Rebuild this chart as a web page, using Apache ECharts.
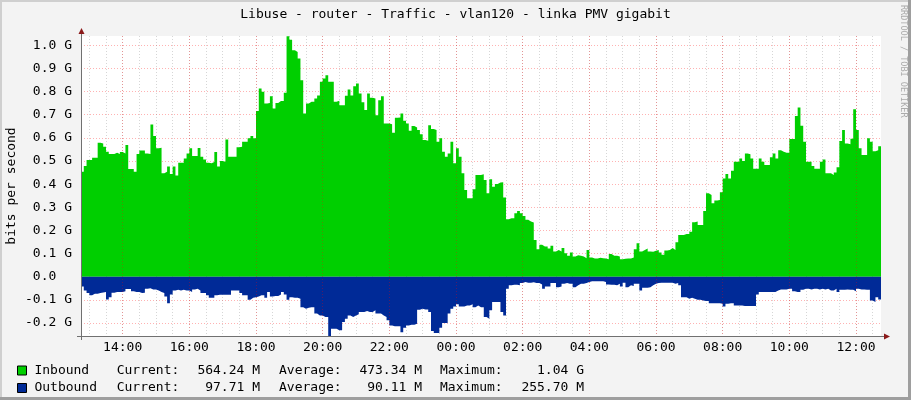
<!DOCTYPE html>
<html><head><meta charset="utf-8">
<script src="https://cdn.jsdelivr.net/npm/echarts@6/dist/echarts.min.js"></script>
<style>html,body{margin:0;padding:0;background:#F3F3F3}#c{width:911px;height:400px}</style>
</head><body><div id="c"></div>
<script>
// ---- data (G bit/s, 5-minute steps starting 12:45) ----
const titleText = 'Libuse - router - Traffic - vlan120 - linka PMV gigabit';
const yAxisTitle = 'bits per second';
const startMinute = 765;   // 12:45
const stepMinutes = 5;
const inbound = [
.454,.478,.504,.504,.514,.514,.579,.576,.562,.540,.530,.530,.536,.530,.539,.533,.569,.466,.466,.454,
.530,.545,.545,.533,.530,.658,.608,.555,.557,.447,.454,.476,.444,.476,.437,.493,.493,.511,.533,.555,
.522,.522,.556,.519,.507,.493,.490,.496,.539,.476,.500,.497,.593,.519,.519,.519,.559,.562,.583,.583,
.598,.608,.598,.716,.813,.799,.749,.751,.780,.727,.751,.759,.759,.795,1.039,1.024,.978,.971,.943,.849,
.705,.749,.756,.756,.770,.783,.842,.856,.871,.842,.842,.756,.760,.741,.741,.782,.809,.783,.823,.835,
.792,.754,.720,.792,.773,.770,.698,.763,.780,.662,.662,.659,.622,.687,.688,.705,.674,.662,.631,.651,
.645,.634,.616,.591,.588,.655,.638,.634,.583,.598,.540,.519,.533,.583,.490,.555,.519,.447,.375,.339,
.339,.378,.440,.440,.443,.418,.361,.421,.389,.401,.407,.408,.342,.249,.253,.253,.274,.284,.274,.263,
.246,.239,.234,.159,.119,.138,.131,.131,.122,.134,.109,.116,.109,.124,.102,.091,.105,.088,.093,.091,
.088,.080,.116,.083,.079,.079,.082,.080,.079,.076,.098,.091,.091,.088,.076,.078,.079,.079,.083,.119,
.145,.109,.116,.122,.109,.108,.112,.116,.105,.095,.114,.116,.124,.116,.149,.181,.181,.185,.185,.195,
.236,.239,.224,.224,.284,.361,.353,.318,.329,.332,.365,.425,.444,.425,.458,.497,.497,.511,.500,.533,
.529,.511,.467,.467,.511,.497,.483,.483,.516,.533,.511,.547,.540,.536,.536,.595,.595,.694,.731,.652,
.583,.497,.497,.478,.467,.467,.497,.507,.447,.447,.440,.450,.473,.586,.634,.576,.572,.596,.724,.634,
.555,.526,.526,.598,.583,.542,.547,.564
];
const outbound = [
.042,.059,.070,.080,.073,.073,.070,.068,.066,.098,.088,.069,.066,.066,.066,.062,.053,.053,.062,.066,
.066,.070,.069,.052,.049,.055,.055,.059,.066,.070,.085,.114,.076,.059,.056,.059,.056,.059,.059,.066,
.055,.052,.059,.070,.070,.080,.091,.091,.080,.078,.078,.078,.078,.078,.059,.059,.059,.070,.080,.080,
.099,.091,.088,.085,.080,.080,.091,.066,.085,.083,.083,.076,.066,.076,.099,.088,.091,.091,.095,.131,
.138,.134,.131,.131,.159,.167,.167,.174,.174,.2557,.224,.224,.231,.231,.195,.181,.167,.174,.167,.162,
.152,.152,.148,.152,.152,.145,.159,.159,.167,.174,.188,.210,.214,.214,.214,.239,.220,.210,.207,.207,
.203,.142,.138,.141,.141,.152,.234,.243,.243,.220,.200,.200,.159,.138,.128,.119,.128,.128,.124,.124,
.119,.131,.124,.131,.131,.174,.181,.145,.109,.109,.109,.152,.167,.052,.037,.034,.034,.037,.027,.023,
.026,.026,.024,.027,.027,.033,.052,.042,.042,.027,.027,.045,.042,.030,.027,.030,.030,.045,.037,.030,
.030,.027,.023,.019,.019,.019,.019,.019,.023,.033,.034,.034,.037,.030,.042,.026,.045,.037,.040,.030,
.030,.059,.047,.047,.045,.037,.030,.027,.026,.026,.026,.026,.026,.030,.027,.037,.088,.088,.095,.091,
.095,.099,.099,.102,.105,.105,.114,.114,.114,.114,.116,.128,.116,.114,.114,.124,.124,.124,.126,.126,
.126,.126,.126,.076,.066,.066,.066,.066,.066,.066,.059,.055,.055,.055,.052,.052,.062,.066,.066,.056,
.052,.052,.055,.052,.052,.055,.052,.055,.052,.059,.059,.052,.066,.056,.056,.055,.056,.056,.062,.052,
.055,.055,.056,.056,.102,.109,.088,.098
];
const seriesNames = ['Inbound', 'Outbound'];
const seriesColors = ['#00CF00', '#002A97'];
const statLabels = ['Current:', 'Average:', 'Maximum:'];
const statValues = [
  ['564.24 M', '473.34 M', '1.04 G'],
  ['97.71 M', '90.11 M', '255.70 M']
];
const yMin = -0.2557, yMax = 1.04, yStep = 0.1;
const xMajorStep = 120, xMinorStep = 30;
const watermark = 'RRDTOOL / TOBI OETIKER';

// ---- build ----
const MONO = '"DejaVu Sans Mono", monospace';
const GL = 81, GT = 36, GW = 800, GH = 300;
const xMin = startMinute, xMax = startMinute + 1440;

function hhmm(m) {
  m = ((Math.round(m) % 1440) + 1440) % 1440;
  const h = Math.floor(m / 60), mm = m % 60;
  return String(h).padStart(2, '0') + ':' + String(mm).padStart(2, '0');
}
function pts(arr, sign) {
  const p = arr.map((v, i) => [startMinute + stepMinutes * i, sign * v]);
  p.push([startMinute + stepMinutes * arr.length, sign * arr[arr.length - 1]]);
  return p;
}

const chart = echarts.init(document.getElementById('c'), null, {renderer: 'canvas'});

const graphics = [];
// 3D frame
graphics.push({type:'rect', shape:{x:0,y:0,width:911,height:2}, style:{fill:'#CFCFCF'}, silent:true});
graphics.push({type:'rect', shape:{x:0,y:0,width:2,height:400}, style:{fill:'#CFCFCF'}, silent:true});
graphics.push({type:'rect', shape:{x:0,y:397,width:911,height:3}, style:{fill:'#9E9E9E'}, silent:true});
graphics.push({type:'rect', shape:{x:908,y:0,width:3,height:400}, style:{fill:'#9E9E9E'}, silent:true});
// axes lines + arrows
graphics.push({type:'line', shape:{x1:GL-4, y1:GT+GH+0.5, x2:GL+GW+4, y2:GT+GH+0.5}, style:{stroke:'#707070', lineWidth:1}, z:10, silent:true});
graphics.push({type:'line', shape:{x1:GL+0.5, y1:GT+GH+4, x2:GL+0.5, y2:GT-3}, style:{stroke:'#707070', lineWidth:1}, z:10, silent:true});
graphics.push({type:'polygon', shape:{points:[[GL+GW+3,GT+GH-2.5],[GL+GW+3,GT+GH+3.5],[GL+GW+9,GT+GH+0.5]]}, style:{fill:'#8B1A1A'}, z:11, silent:true});
graphics.push({type:'polygon', shape:{points:[[GL-2.5,GT-2],[GL+3.5,GT-2],[GL+0.5,GT-8]]}, style:{fill:'#8B1A1A'}, z:11, silent:true});
// y axis title
graphics.push({type:'text', x:12, y:GT+GH/2, rotation:Math.PI/2, style:{text:yAxisTitle, font:'13px ' + MONO, fill:'#000', align:'center', verticalAlign:'middle'}, silent:true});
// watermark
graphics.push({type:'text', x:903, y:5, rotation:-Math.PI/2, style:{text:watermark, font:'8.5px ' + MONO, fill:'#ABABAB', align:'left', verticalAlign:'middle'}, silent:true});
// legend
const rowY = [370.5, 388];
const statLabelX = [116.7, 279, 440];
const statValueRight = [260, 422, 584];
seriesNames.forEach((name, r) => {
  graphics.push({type:'rect', shape:{x:17.5, y:rowY[r]-4.5, width:9, height:9}, style:{fill:seriesColors[r], stroke:'#000', lineWidth:1}, silent:true});
  graphics.push({type:'text', x:34.4, y:rowY[r], style:{text:name, font:'13px ' + MONO, fill:'#000', verticalAlign:'middle', align:'left'}, silent:true});
  statLabels.forEach((lab, k) => {
    graphics.push({type:'text', x:statLabelX[k], y:rowY[r], style:{text:lab, font:'13px ' + MONO, fill:'#000', verticalAlign:'middle', align:'left'}, silent:true});
    graphics.push({type:'text', x:statValueRight[k], y:rowY[r], style:{text:statValues[r][k], font:'13px ' + MONO, fill:'#000', verticalAlign:'middle', align:'right'}, silent:true});
  });
});

const majorLine = {color:'rgba(255,0,0,0.30)', type:[1,2], width:1};
const minorLine = {color:'rgba(128,128,128,0.32)', type:[1,2], width:1};

chart.setOption({
  animation: false,
  backgroundColor: '#F3F3F3',
  title: {text: titleText, left: 'center', top: 3,
    textStyle: {fontFamily: MONO, fontSize: 13, fontWeight: 'normal', color: '#000'}},
  grid: {left: GL, top: GT, width: GW, height: GH, show: true, backgroundColor: '#FFFFFF', borderWidth: 0},
  xAxis: [
    {type: 'value', min: xMin, max: xMax, minInterval: xMajorStep, maxInterval: xMajorStep, z: 3,
      axisLine: {show: false}, axisTick: {show: false},
      axisLabel: {formatter: hhmm, showMinLabel: false, showMaxLabel: false, fontFamily: MONO, fontSize: 13, color: '#000', margin: 5},
      splitLine: {show: true, showMinLine: false, showMaxLine: false, lineStyle: majorLine}},
    {type: 'value', min: xMin, max: xMax, minInterval: xMinorStep, maxInterval: xMinorStep, z: 1,
      axisLine: {show: false}, axisTick: {show: false}, axisLabel: {show: false},
      splitLine: {show: true, showMinLine: false, showMaxLine: false, lineStyle: minorLine}}
  ],
  yAxis: {type: 'value', min: yMin, max: yMax, minInterval: yStep, maxInterval: yStep,
    axisLine: {show: false}, axisTick: {show: false},
    axisLabel: {showMinLabel: false, showMaxLabel: false, fontFamily: MONO, fontSize: 13, color: '#000', margin: 9,
      formatter: v => Math.abs(v) < 1e-9 ? '0.0\u00a0\u00a0' : v.toFixed(1) + ' G'},
    splitLine: {show: true, showMinLine: false, showMaxLine: false, lineStyle: majorLine}},
  series: [
    {name: seriesNames[0], type: 'line', step: 'end', xAxisIndex: 0, data: pts(inbound, 1), symbol: 'none',
      lineStyle: {width: 0}, areaStyle: {color: seriesColors[0], opacity: 1}, silent: true, z: 2},
    {name: seriesNames[1], type: 'line', step: 'end', xAxisIndex: 0, data: pts(outbound, -1), symbol: 'none',
      lineStyle: {width: 0}, areaStyle: {color: seriesColors[1], opacity: 1}, silent: true, z: 2}
  ],
  graphic: graphics
});
</script></body></html>
